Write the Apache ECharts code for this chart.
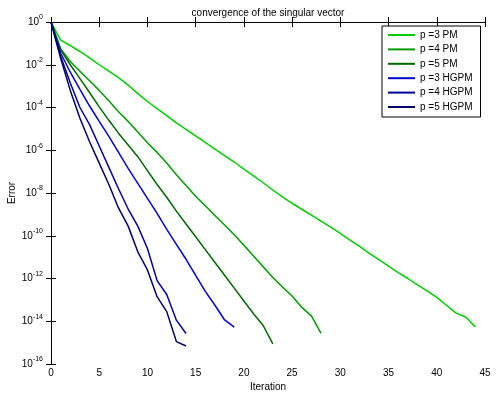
<!DOCTYPE html>
<html>
<head>
<meta charset="utf-8">
<script src="https://cdn.jsdelivr.net/npm/echarts@6/dist/echarts.min.js"></script>
<style>
  html, body { margin: 0; padding: 0; background: #fff; }
  #conv_chart { width: 498px; height: 396px; }
</style>
</head>
<body>
<div id="conv_chart"></div>
<script>
// log10 of the error, one value per iteration (index = iteration)
var pm3 = [0, -0.85, -1.1, -1.38, -1.68, -2.0, -2.3, -2.6, -2.95, -3.35, -3.72, -4.05, -4.38, -4.72, -5.02,
    -5.33, -5.63, -5.95, -6.25, -6.55, -6.88, -7.2, -7.52, -7.86, -8.18, -8.48, -8.76, -9.04, -9.32, -9.6,
    -9.89, -10.2, -10.5, -10.82, -11.12, -11.42, -11.72, -12.0, -12.3, -12.58, -12.88, -13.25, -13.62, -13.8, -14.27];
var pm4 = [0, -1.25, -1.85, -2.3, -2.75, -3.2, -3.68, -4.2, -4.65, -5.15, -5.65, -6.1, -6.6, -7.15, -7.65,
    -8.15, -8.6, -9.05, -9.5, -9.95, -10.45, -10.95, -11.45, -11.95, -12.4, -12.82, -13.35, -13.75, -14.57];
var pm5 = [0, -1.3, -2.0, -2.65, -3.3, -3.97, -4.6, -5.2, -5.75, -6.3, -6.95, -7.6, -8.2, -8.85, -9.45,
    -10.05, -10.65, -11.25, -11.85, -12.45, -13.05, -13.65, -14.2, -15.06];
var hgpm3 = [0, -1.45, -2.35, -3.15, -3.93, -4.65, -5.35, -6.1, -6.85, -7.55, -8.25, -8.95, -9.7, -10.4,
    -11.1, -11.85, -12.6, -13.25, -13.94, -14.27];
var hgpm4 = [0, -1.6, -2.85, -4.0, -4.8, -5.8, -6.8, -7.8, -8.75, -9.55, -10.6, -12.1, -12.75, -13.95, -14.57];
var hgpm5 = [0, -1.7, -3.2, -4.5, -5.6, -6.6, -7.6, -8.7, -9.55, -10.75, -11.6, -12.85, -13.55, -14.95, -15.16];

var seriesNames = ['p =3 PM', 'p =4 PM', 'p =5 PM', 'p =3 HGPM', 'p =4 HGPM', 'p =5 HGPM'];
var seriesData = [pm3, pm4, pm5, hgpm3, hgpm4, hgpm5];
var seriesColors = ['#00cc00', '#009900', '#006600', '#0000cc', '#000099', '#000066'];

var font = 'Liberation Sans, Arial, sans-serif';

function toPoints(arr) {
    var pts = [];
    for (var i = 0; i < arr.length; i++) pts.push([i, arr[i]]);
    return pts;
}

var chart = echarts.init(document.getElementById('conv_chart'));

var series = [];
for (var k = 0; k < seriesNames.length; k++) {
    series.push({
        name: seriesNames[k],
        type: 'line',
        symbol: 'none',
        data: toPoints(seriesData[k]),
        lineStyle: { color: seriesColors[k], width: 1.5 },
        itemStyle: { color: seriesColors[k] }
    });
}

var tickStyle = { show: true, inside: true, length: 5, lineStyle: { color: '#000' } };

chart.setOption({
    backgroundColor: '#fff',
    animation: false,
    title: {
        text: 'convergence of the singular vector',
        left: 263, top: 3, textAlign: 'center',
        textStyle: { fontFamily: font, fontSize: 10, fontWeight: 'normal', color: '#000' }
    },
    legend: {
        data: seriesNames,
        orient: 'vertical',
        left: 382, top: 26,
        icon: 'rect',
        itemWidth: 27, itemHeight: 2, itemGap: 2.4,
        padding: [3, 8, 4, 6],
        backgroundColor: '#fff',
        borderColor: '#000', borderWidth: 1, borderRadius: 0,
        textStyle: { fontFamily: font, fontSize: 10, lineHeight: 12, color: '#000' }
    },
    grid: { left: 51, right: 13, top: 22, bottom: 32, containLabel: false, outerBoundsMode: 'none' },
    xAxis: [{
        type: 'value', min: 0, max: 45, interval: 5,
        name: 'Iteration', nameLocation: 'middle', nameGap: 18, nameMoveOverlap: false,
        nameTextStyle: { fontFamily: font, fontSize: 10, color: '#000' },
        axisLine: { lineStyle: { color: '#000' } },
        axisTick: tickStyle,
        axisLabel: { fontFamily: font, fontSize: 10, color: '#000', margin: 4 },
        splitLine: { show: false }
    }, {
        type: 'value', min: 0, max: 45, interval: 5, position: 'top',
        axisLine: { lineStyle: { color: '#000' } },
        axisTick: tickStyle,
        axisLabel: { show: false },
        splitLine: { show: false }
    }],
    yAxis: [{
        type: 'value', min: -16, max: 0, interval: 2,
        name: 'Error', nameLocation: 'middle', nameGap: 34, nameMoveOverlap: false,
        nameTextStyle: { fontFamily: font, fontSize: 10, color: '#000' },
        axisLine: { lineStyle: { color: '#000' } },
        axisTick: tickStyle,
        axisLabel: {
            margin: 8,
            fontFamily: font, fontSize: 10, color: '#000', lineHeight: 16,
            formatter: function (v) { return '10{e|' + v + '}'; },
            rich: { e: { fontFamily: font, fontSize: 7, lineHeight: 8, verticalAlign: 'top', color: '#000' } }
        },
        splitLine: { show: false }
    }, {
        type: 'value', min: -16, max: 0, interval: 2, position: 'right',
        axisLine: { lineStyle: { color: '#000' } },
        axisTick: tickStyle,
        axisLabel: { show: false },
        splitLine: { show: false }
    }],
    series: series
});
</script>
</body>
</html>
